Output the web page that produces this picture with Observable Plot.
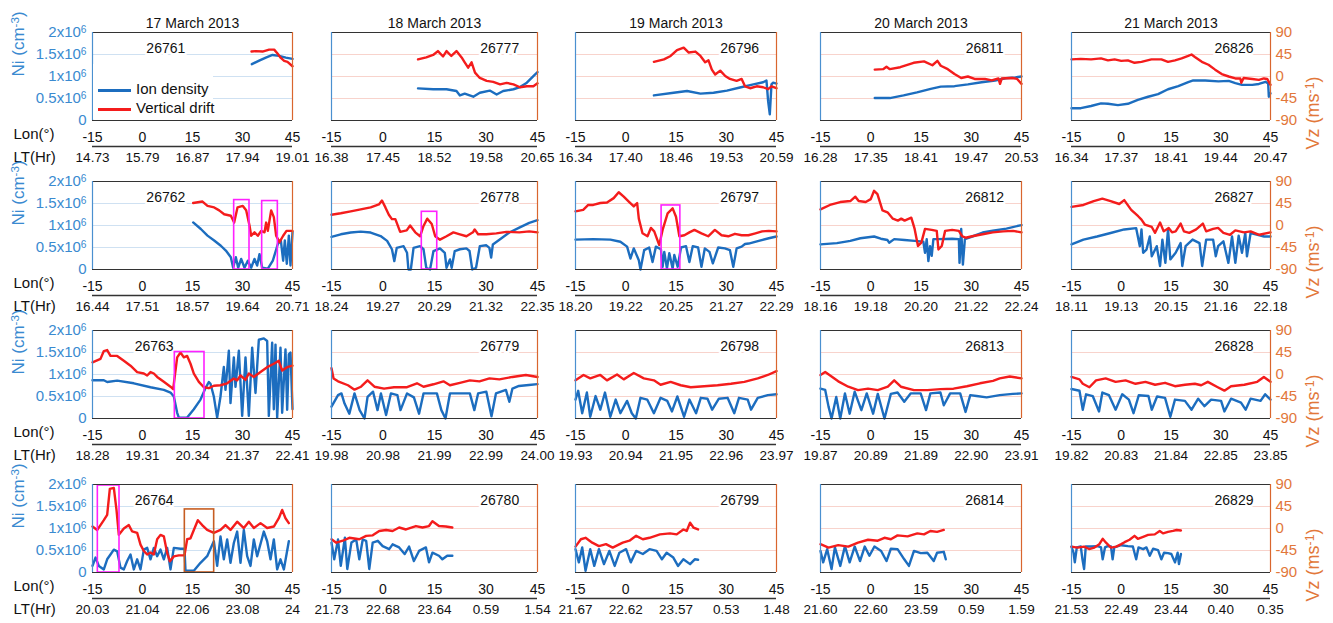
<!DOCTYPE html>
<html><head><meta charset="utf-8">
<script src="https://cdn.jsdelivr.net/npm/d3@7"></script>
<script src="https://cdn.jsdelivr.net/npm/@observablehq/plot@0.6"></script>
<style>
body{margin:0;background:#fff;}
#chart{position:relative;width:1333px;height:623px;overflow:hidden;background:#fff;font-family:"Liberation Sans",Arial,sans-serif;}
#chart svg{position:absolute;}
.legend{position:absolute;left:93px;top:64px;width:120px;height:55px;background:#fff;font-size:15px;color:#111;}
.legend .row{position:absolute;left:5px;height:18px;line-height:18px;white-space:nowrap;}
.legend .sw{display:inline-block;width:33px;height:3px;vertical-align:middle;margin-right:5px;}
</style></head><body><div id="chart"></div>
<script>
// ---- categories / labels ----
const dates = ["17 March 2013","18 March 2013","19 March 2013","20 March 2013","21 March 2013"];
const orbitRows = [
  [26761,26777,26796,26811,26826],
  [26762,26778,26797,26812,26827],
  [26763,26779,26798,26813,26828],
  [26764,26780,26799,26814,26829]
];
const lonTicks = [-15,0,15,30,45];
const niTicks = [0,0.5,1,1.5,2];          // Ni in 10^6 cm^-3
const ltRow0 = [["14.73","15.79","16.87","17.94","19.01"],["16.38","17.45","18.52","19.58","20.65"],["16.34","17.40","18.46","19.53","20.59"],["16.28","17.35","18.41","19.47","20.53"],["16.34","17.37","18.41","19.44","20.47"]];
const ltRow1 = [["16.44","17.51","18.57","19.64","20.71"],["18.24","19.27","20.29","21.32","22.35"],["18.20","19.22","20.25","21.27","22.29"],["18.16","19.18","20.20","21.22","22.24"],["18.11","19.13","20.15","21.16","22.18"]];
const ltRow2 = [["18.28","19.31","20.34","21.37","22.41"],["19.98","20.98","21.99","22.99","24.00"],["19.93","20.94","21.95","22.96","23.97"],["19.87","20.89","21.89","22.90","23.91"],["19.82","20.83","21.84","22.85","23.85"]];
const ltRow3 = [["20.03","21.04","22.06","23.08","24"],["21.73","22.68","23.64","0.59","1.54"],["21.67","22.62","23.57","0.53","1.48"],["21.60","22.60","23.59","0.59","1.59"],["21.53","22.49","23.44","0.40","0.35"]];

// ---- series: [lon, Ni (10^6 cm^-3)] and [lon, Vz (m/s)] ----
const ni26761 = [[32.8,1.28],[35,1.36],[37,1.43],[39,1.49],[41,1.47],[43,1.43],[45,1.40]];
const vz26761 = [[32.7,51],[34,52],[36,51],[38,55],[39.5,55],[40.5,47],[41.5,38],[42.5,32],[43.5,30],[45,21]];
const ni26762 = [[15.2,1.07],[17.5,0.92],[19.5,0.77],[21.5,0.66],[23.5,0.54],[25,0.43],[26.5,0.28],[27.2,0.04],[28,0.28],[28.7,0.04],[29.6,0.24],[30.6,0.04],[31.6,0.2],[32.6,0.04],[33.6,0.24],[34.4,0.09],[35.1,0.35],[35.9,0.04],[37.6,0.02],[39.1,0.2],[40.6,0.58],[41.5,0.66],[42.2,0.2],[42.7,0.66],[43.3,0.13],[43.9,0.77],[44.4,0.09],[45,0.85]];
const vz26762 = [[15.2,46],[18,49],[19.5,40],[21.5,37],[23,31],[24.5,23],[26.5,20],[27.5,6],[28.5,37],[30.1,40],[31.1,31],[32.1,0],[32.6,-21],[33.6,-14],[34.6,-21],[35.6,-11],[36.6,-14],[37.1,6],[37.6,-11],[38.6,31],[39.4,17],[40.1,-21],[41.1,-34],[42.2,-21],[43.2,-11],[45,-11]];
const ni26763 = [[-15,0.87],[-11.6,0.87],[-10.6,0.83],[-7.6,0.86],[-2.6,0.8],[2.4,0.71],[6.4,0.65],[8.4,0.59],[9.4,0.5],[10.4,0.13],[10.9,0.02],[13.4,0.02],[15.4,0.21],[17.4,0.43],[18.9,0.69],[19.9,0.83],[20.4,0.79],[21.4,0.5],[22.4,0.02],[23.4,0.5],[24.4,1.17],[24.9,0.65],[25.9,1.54],[26.4,0.35],[27.4,1.39],[27.9,0.72],[28.9,1.54],[29.9,0.06],[30.9,1.39],[31.9,0.06],[32.9,1.61],[33.9,0.58],[34.9,1.79],[36.4,1.82],[37.4,1.76],[37.9,0.06],[38.9,1.72],[39.4,0.21],[39.9,1.68],[40.4,0.02],[41.4,1.61],[41.9,0.13],[42.9,1.57],[43.4,0.2],[43.9,1.46],[44.4,1.5],[45,0.21]];
const vz26763 = [[-15,25],[-12.6,32],[-11.6,48],[-10.6,50],[-9.6,38],[-7.6,38],[-5.6,28],[-3.6,18],[-1.6,5],[0.4,2],[1.4,-2],[2.4,5],[3.4,2],[4.4,-5],[6.4,-15],[8.4,-25],[9.2,-30],[10.4,35],[11.4,45],[12.4,35],[13.4,38],[14.4,22],[15.4,2],[16.9,-15],[18.4,-26],[19.9,-28],[21.4,-23],[23.4,-22],[25.4,-18],[27.4,-8],[28.4,-12],[29.4,-2],[30.9,-11],[31.9,2],[33.4,-5],[35.4,5],[37.4,15],[39.4,22],[40.9,28],[41.9,8],[43.4,15],[45,18]];
const ni26764 = [[-15,0.15],[-14.1,0.34],[-13.1,0.15],[-11.6,0.07],[-10.6,0.3],[-9.6,0.41],[-8.6,0.52],[-7.6,0.48],[-6.6,0.11],[-5.6,0.07],[-4.6,0.26],[-3.6,0.41],[-2.6,0.07],[-1.6,0.3],[-0.6,0.07],[0.4,0.52],[1.4,0.56],[2.4,0.3],[3.4,0.56],[4.4,0.37],[5.4,0.52],[6.4,0.3],[7.4,0.56],[8.4,0.07],[9.4,0.56],[11.4,0.54],[12.6,0.54],[12.9,0.04],[15.4,0.04],[17.4,0.22],[19.4,0.37],[21.4,0.71],[22.4,0.15],[23.4,0.82],[24.4,0.3],[25.4,0.75],[26.4,0.22],[27.4,0.67],[28.4,0.93],[29.4,0.22],[30.4,0.97],[31.4,0.37],[32.4,0.15],[33.4,0.75],[34.4,0.37],[36.4,0.93],[37.4,0.71],[38.4,0.3],[39.4,0.75],[40.4,0.07],[41.4,0.3],[42.4,0.07],[43.9,0.71]];
const vz26764 = [[-15,4],[-13.6,-3],[-12.6,7],[-11.6,17],[-10.6,28],[-9.8,81],[-8.6,83],[-7.8,38],[-7.1,-13],[-5.6,0],[-4.1,7],[-3.1,-6],[-1.6,-9],[-0.6,-33],[0.4,-46],[1.4,-53],[2.4,-49],[3.4,-53],[4.4,-22],[5.4,-13],[6.4,-16],[7.4,-50],[8.2,-67],[9.4,-57],[10.9,-55],[12.6,-55],[13.4,-22],[14.4,-20],[15.4,-3],[16.6,17],[17.9,7],[19.4,-3],[21.4,-9],[23.4,-3],[24.9,7],[26.4,-3],[28.4,14],[30.4,1],[31.9,14],[33.4,1],[35.4,11],[37.4,1],[39.4,4],[40.9,21],[41.9,38],[42.9,21],[43.9,11]];

const ni26777 = [[10.2,0.73],[14.6,0.71],[18.5,0.71],[21.4,0.67],[22.4,0.57],[23.8,0.61],[26.3,0.54],[28.2,0.63],[31.1,0.68],[33.1,0.59],[35,0.67],[38,0.71],[39.9,0.76],[41.9,0.86],[43.8,1.01],[45,1.1]];
const vz26777 = [[10.2,35],[12.6,39],[14.6,44],[16,52],[17.5,41],[18.5,52],[19.9,42],[21.4,52],[22.9,39],[23.8,29],[24.8,18],[25.8,29],[26.8,8],[28.2,-3],[30.2,-9],[32.1,-11],[34.1,-16],[36,-13],[38,-16],[39.9,-22],[41.9,-20],[43.8,-20],[45,-14]];
const ni26778 = [[-15,0.74],[-12.3,0.8],[-9.4,0.84],[-6.5,0.86],[-3.6,0.84],[-0.7,0.76],[1.2,0.65],[2.6,0.46],[3.3,0.19],[4,0.49],[6,0.53],[7,0.38],[7.4,0],[8.1,0],[8.9,0.49],[10.8,0.53],[11.8,0.46],[12.6,0.04],[13.7,0],[14.7,0.42],[16.6,0.48],[18,0.38],[18.5,0.04],[19.5,0.23],[20,0.04],[20.9,0.42],[22.4,0.46],[24.3,0.48],[25.2,0.42],[26,0],[27.1,0.04],[28.2,0.53],[30.1,0.55],[31,0.49],[31.5,0.27],[32,0.57],[34,0.68],[36.8,0.84],[39.7,0.95],[42.6,1.06],[45,1.12]];
const vz26778 = [[-15,22],[-12.3,25],[-9.4,29],[-6.5,33],[-3.6,37],[-1.2,43],[-0.3,51],[0.7,37],[1.7,22],[2.6,13],[3.6,13],[5,-13],[6.9,-10],[7.9,0],[9.4,-14],[10.8,-22],[11.8,-1],[12.9,14],[14.2,3],[15.2,-22],[16.6,-29],[18.5,-22],[20.5,-14],[22.4,-18],[24.3,-22],[26.2,-14],[26.7,-8],[27.7,-18],[30.1,-18],[33,-16],[35.9,-13],[39.7,-14],[42.6,-12],[45,-14]];
const ni26779 = [[-15,0.27],[-13.1,0.53],[-12.1,0.57],[-11.2,0.34],[-9.8,0.11],[-8.3,0.57],[-6.8,0.19],[-5.4,0],[-4.5,0.49],[-2.9,0.61],[-1.6,0.19],[-0.6,0.57],[0.9,0.08],[2.3,0.57],[4.2,0.53],[5.1,0.19],[7,0.57],[9,0.48],[10.5,0.11],[11.8,0.57],[13.8,0.57],[15.7,0.57],[17,0.19],[18.2,0],[19.5,0.57],[22.4,0.57],[25.3,0.57],[26.6,0.19],[27.7,0.57],[30.1,0.61],[31.6,0.05],[32.9,0.57],[35.8,0.65],[36.8,0.38],[37.7,0.68],[39.6,0.74],[42.5,0.76],[45,0.78]];
const vz26779 = [[-15,13],[-14.4,-8],[-13.1,-14],[-10.2,-22],[-8.3,-31],[-6.4,-25],[-4.5,-12],[-2.5,-25],[0.3,-29],[3.2,-26],[7,-26],[9.9,-18],[11.8,-25],[14.7,-20],[17.6,-14],[19.5,-22],[22.4,-17],[25.3,-12],[28.1,-14],[31,-8],[33.9,-10],[37.7,-5],[41.6,-1],[45,-5]];
const ni26780 = [[-15,0.68],[-14.2,0.3],[-13.1,0.75],[-12.3,0.15],[-11.1,0.79],[-10.4,0.08],[-9.2,0.68],[-7.8,0.75],[-6.9,0.3],[-5.9,0.75],[-4.9,0.72],[-4,0.08],[-3,0.68],[-1.5,0.72],[-0.1,0.6],[1.8,0.53],[2.8,0.64],[4.7,0.57],[6.3,0.42],[7.6,0.59],[9,0.26],[10.5,0.49],[12.5,0.57],[13.4,0.23],[14.4,0.45],[16.3,0.38],[17.3,0.3],[18.7,0.38],[20.2,0.38]];
const vz26780 = [[-15,-22],[-13.6,-29],[-11.7,-25],[-9.8,-19],[-6.9,-22],[-4.9,-15],[-3,-14],[-1.1,-5],[0.9,-3],[2.8,-5],[4.7,2],[6.7,-2],[9.6,5],[11.5,2],[13.4,5],[14.4,15],[16.3,5],[18.3,4],[20.2,2]];

const ni26796 = [[8.4,0.57],[14.3,0.63],[18.3,0.67],[22.3,0.61],[26.2,0.63],[30.2,0.68],[34.1,0.75],[38.1,0.82],[41,0.87],[42,0.91],[42.5,0.44],[43,0.14],[43.5,0.82],[44,0.86],[45,0.84]];
const vz26796 = [[8.4,30],[11.4,35],[13.4,42],[15.3,54],[17.3,59],[18.8,49],[20.8,51],[22.3,42],[23.7,29],[24.7,33],[25.7,14],[26.7,4],[28.2,12],[29.7,1],[31.1,-5],[33.1,-9],[34.6,-5],[35.6,-20],[37.1,-24],[39.1,-20],[41,-22],[42.5,-26],[43.5,-20],[45,-24]];
const ni26797 = [[-15,0.68],[-9.7,0.69],[-4.6,0.68],[-1.6,0.63],[0.4,0.52],[1.4,0.25],[2.4,0.48],[3.9,0.21],[4.4,0],[5.5,0.44],[7,0.5],[8,0.17],[9,0.52],[10.5,0.46],[11,0.06],[11.5,0.4],[12.3,0.02],[13,0.37],[14,0.02],[14.5,0.33],[15.5,0.06],[16.5,0.5],[18,0.53],[19,0.17],[20,0.53],[21.6,0.5],[22.6,0.06],[23.6,0.48],[25,0.4],[26,0.14],[27.6,0.5],[29.6,0.48],[31.1,0.44],[32.1,0.06],[33.1,0.48],[34.6,0.52],[35.6,0.58],[36.7,0.59],[39.7,0.65],[42.7,0.71],[45,0.75]];
const vz26797 = [[-15,29],[-12.7,32],[-11.2,42],[-9.7,42],[-7.6,46],[-5.6,47],[-3.6,56],[-2.1,68],[-0.6,59],[0.9,49],[2.4,39],[3.4,46],[3.9,14],[5,-16],[6.5,-22],[7.5,-5],[8.5,-12],[10,-40],[11,-9],[12.5,25],[14,35],[15,18],[16,-22],[17.5,-20],[19,-14],[20.5,-9],[22.6,-16],[24.6,-22],[26.6,-9],[28.6,-20],[30.6,-22],[32.6,-17],[34.6,-20],[36.6,-20],[38.7,-16],[40.7,-12],[42.7,-11],[45,-12]];
const ni26798 = [[-15,0.43],[-14.2,0.63],[-13,0.12],[-11.6,0.59],[-10.6,0.04],[-9,0.51],[-7.6,0.2],[-6.2,0.59],[-4.6,0.04],[-3,0.43],[-1.6,0.12],[0.4,0.4],[1.8,0.12],[3,0],[4.4,0.47],[6.4,0.43],[8.4,0.12],[10.4,0.47],[12.4,0.4],[13.8,0.16],[15.4,0.5],[17.4,0.04],[19,0.43],[21,0.12],[22.4,0.47],[24.4,0.45],[25.8,0.2],[27.8,0.45],[30.4,0.47],[32.4,0.12],[33.8,0.47],[36.4,0.43],[37.4,0.2],[39.4,0.47],[42.4,0.53],[45,0.55]];
const vz26798 = [[-15,-12],[-12.6,-1],[-10.6,-8],[-7.6,-1],[-5.6,-12],[-2.6,0],[-0.6,-10],[2.4,3],[5.4,-8],[8.4,-12],[10.4,-21],[13.4,-15],[16.4,-22],[19.4,-26],[23.4,-24],[27.4,-22],[31.4,-19],[35.4,-15],[39.4,-8],[42.4,-1],[45,7]];
const ni26799 = [[-15,0.53],[-14,0.23],[-13,0.57],[-12,0.04],[-10.6,0.53],[-9.4,0.15],[-8,0.53],[-6.5,0.19],[-4.9,0.49],[-3.3,0.15],[-1.9,0.45],[0.1,0.53],[1.5,0.23],[3.1,0.49],[5.1,0.42],[7.1,0.53],[9.2,0.49],[10.8,0.3],[12.2,0.45],[14.2,0.34],[15.6,0.15],[17.2,0.3],[19.2,0.19],[20.6,0.3],[21.6,0.29]];
const vz26799 = [[-15,-37],[-13.4,-22],[-12,-19],[-10,-29],[-8,-36],[-5.9,-32],[-3.9,-39],[-0.9,-29],[1.1,-25],[3.1,-15],[5.1,-22],[7.1,-19],[10.2,-12],[13.2,-10],[15.2,-12],[17.2,-2],[18.2,-5],[19.2,12],[20.2,2],[21.6,-2]];

const ni26811 = [[1.2,0.51],[5.7,0.51],[9.8,0.57],[13.8,0.64],[17.9,0.72],[20.9,0.77],[25,0.78],[29,0.82],[33.1,0.87],[37.1,0.91],[40.2,0.96],[43.2,0.98],[45,1]];
const vz26811 = [[1.2,14],[3.7,15],[4.7,20],[5.7,15],[8.8,19],[12.8,28],[15.9,31],[18.4,23],[19.9,32],[20.9,22],[23,15],[25,5],[27,-3],[29,0],[31,-5],[34.1,-5],[36.1,-8],[38.1,-4],[38.6,-15],[39.1,-4],[42.2,-3],[43.7,-5],[45,-15]];
const ni26812 = [[-15,0.57],[-10.1,0.6],[-6.1,0.65],[-3.1,0.71],[1,0.75],[3,0.7],[5,0.67],[5.5,0.61],[7,0.69],[10.1,0.67],[13.1,0.65],[15.7,0.63],[16.2,0.38],[16.7,0.69],[17.2,0.19],[17.7,0.53],[18.2,0.31],[18.7,0.69],[20.2,0.69],[24.3,0.7],[26.3,0.69],[26.5,0.15],[27,0.92],[27.5,0.11],[28.1,0.69],[30.3,0.75],[33.4,0.84],[36.4,0.88],[40.5,0.93],[45,1.01]];
const vz26812 = [[-15,33],[-12.2,42],[-9.1,48],[-6.1,50],[-4.6,59],[-3.6,50],[-1.5,48],[0,54],[1,71],[2,64],[3.5,31],[5,27],[6.6,14],[8.1,10],[9.1,14],[10.1,10],[12.1,16],[13.1,-7],[14.1,-42],[15.1,-35],[16.2,-7],[18.2,-9],[19.7,-11],[20.2,-49],[21.2,-42],[22.2,-11],[24.3,-9],[26.3,-11],[27.3,-22],[28.3,-25],[30.3,-22],[33.4,-18],[36.4,-14],[39.5,-12],[42.5,-11],[45,-14]];
const ni26813 = [[-15,0.68],[-13.6,0.65],[-12.6,0.27],[-11.7,0],[-10.3,0.49],[-9.1,0],[-7.7,0.57],[-6.3,0.11],[-4.8,0.61],[-2.8,0.19],[-1.2,0.57],[0.7,0.11],[2.1,0.56],[4.1,0],[6,0.56],[8,0.59],[10,0.38],[11.9,0.57],[14.9,0.57],[16.5,0.19],[17.8,0.57],[20.8,0.59],[21.8,0.3],[23.7,0.57],[26.7,0.57],[28.3,0.15],[29.7,0.53],[31.6,0.51],[34.6,0.48],[38.5,0.53],[42.4,0.56],[45,0.57]];
const vz26813 = [[-15,-1],[-13.6,5],[-11.7,-4],[-9.7,-14],[-6.7,-25],[-3.8,-32],[-0.8,-29],[2.1,-32],[5.1,-25],[7,-12],[9,-25],[12.9,-32],[16.9,-32],[20.8,-30],[24.7,-29],[28.7,-24],[32.6,-18],[36.5,-13],[38.5,-8],[41.5,-4],[45,-8]];
const ni26814 = [[-15,0.49],[-14.2,0.23],[-13,0.53],[-11.7,0.08],[-10.7,0.57],[-9.1,0.15],[-7.7,0.6],[-6.3,0.23],[-4.8,0.59],[-3.2,0.26],[-1.8,0.59],[-0.4,0.38],[1.1,0.59],[3.1,0.49],[4.7,0.26],[6,0.54],[8,0.53],[10,0.3],[11.4,0.15],[12.9,0.49],[14.9,0.44],[16.9,0.45],[18.8,0.26],[19.8,0.45],[21.8,0.47],[22.4,0.3]];
const vz26814 = [[-15,-32],[-12.6,-39],[-9.7,-34],[-6.7,-37],[-3.8,-29],[-0.8,-23],[2.1,-25],[4.1,-19],[6,-22],[8,-14],[11,-16],[13.9,-10],[15.9,-12],[17.8,-5],[19.8,-7],[21.8,-3]];

const ni26826 = [[-15,0.28],[-12.2,0.28],[-9.1,0.33],[-6.1,0.39],[-4,0.38],[-1,0.35],[2,0.38],[5,0.47],[8.1,0.54],[11.1,0.6],[14.1,0.71],[17.2,0.78],[20.2,0.87],[21.7,0.91],[25.3,0.91],[29.3,0.89],[32.4,0.9],[34.4,0.85],[36.4,0.81],[39.5,0.81],[41.5,0.83],[43.5,0.88],[44.3,0.84],[44.5,0.54],[45,0.62]];
const vz26826 = [[-15,35],[-12.2,36],[-9.1,35],[-6.1,37],[-4,33],[-2,35],[0,32],[2,33],[4,28],[6.1,30],[9.1,35],[12.1,35],[14.1,30],[16.2,33],[18.2,37],[20.2,42],[21.2,45],[22.2,40],[24.3,30],[26.3,24],[28.3,14],[30.3,5],[32.4,0],[34.4,-4],[35.9,-4],[36.2,-13],[36.9,-3],[39.5,-5],[41.5,-7],[43,-4],[44,-5],[45,-17]];
const ni26827 = [[-15,0.57],[-11.4,0.68],[-7.3,0.75],[-3.2,0.83],[0.9,0.91],[4.5,0.94],[5.6,0.53],[6.1,0.91],[6.6,0.38],[7.6,0.45],[8.6,0.75],[9.2,0.3],[10.7,0.53],[11.7,0.08],[12.4,0.68],[13.3,0.15],[14.1,0.91],[14.8,0.23],[16.4,0.38],[17.9,0.6],[18.4,0.08],[19.4,0.53],[21.5,0.68],[23.6,0.6],[24.4,0.08],[25.6,0.68],[27.7,0.68],[28.5,0.3],[29.2,0.53],[30.8,0.64],[32.3,0.15],[33.4,0.75],[34.4,0.15],[35.4,0.77],[36.4,0.38],[37.4,0.83],[37.9,0.3],[39,0.83],[41.1,0.79],[43.1,0.75],[45,0.75]];
const vz26827 = [[-15,38],[-11.4,42],[-8.3,50],[-5.7,55],[-3.2,50],[-0.6,44],[0.9,52],[3,32],[5.1,19],[6.1,12],[7.1,2],[9.2,-3],[10.2,-15],[11.7,6],[12.8,-12],[14.3,-5],[15.3,-14],[16.4,-12],[17.9,4],[18.9,-12],[20.5,-15],[22.6,-8],[24.6,4],[25.6,-12],[27.7,-7],[29.2,-5],[30.8,-15],[32.8,-19],[34.4,-10],[37,-14],[39,-12],[41.6,-19],[45,-14]];
const ni26828 = [[-15,0.67],[-12.6,0.63],[-11.6,0.2],[-10.6,0.55],[-8.6,0.51],[-6.7,0.16],[-5.7,0.59],[-3.7,0.53],[-1.7,0.2],[0.3,0.55],[2.3,0.43],[3.7,0.12],[5.3,0.53],[8.2,0.51],[9.2,0.2],[10.8,0.5],[13.2,0.47],[14.8,0.04],[16.2,0.43],[19.2,0.4],[21.2,0.2],[23.2,0.45],[25.1,0.28],[27.1,0.43],[30.1,0.4],[31.1,0.16],[33.1,0.45],[36.1,0.36],[37.5,0.2],[39,0.45],[42,0.4],[43.4,0.55],[45,0.43]];
const vz26828 = [[-15,-5],[-12.6,-10],[-11.6,-19],[-9.6,-26],[-7.6,-12],[-4.7,-8],[-1.7,-15],[1.3,-12],[4.3,-19],[7.3,-15],[10.2,-21],[13.2,-17],[16.2,-24],[19.2,-21],[22.2,-19],[24.1,-22],[26.1,-15],[29.1,-26],[31.1,-33],[33.1,-24],[37.1,-21],[41,-15],[43,-5],[45,-15]];
const ni26829 = [[-15,0.59],[-14.4,0.45],[-14,0.23],[-13.4,0.57],[-12.2,0.59],[-11.7,0.3],[-11.2,0.08],[-10.7,0.59],[-9.1,0.59],[-7.1,0.6],[-6.1,0.57],[-5.6,0.3],[-4.9,0.57],[-4.1,0.6],[-3.1,0.59],[-2.6,0.3],[-2.1,0.57],[0,0.62],[2,0.6],[3.5,0.59],[4.5,0.3],[5.2,0.57],[6.6,0.53],[7.6,0.57],[8.6,0.38],[9.6,0.54],[11.1,0.51],[12.1,0.3],[12.9,0.45],[14.1,0.44],[15.1,0.42],[16.2,0.23],[17,0.45],[17.4,0.19],[18,0.42]];
const vz26829 = [[-15,-37],[-13.2,-39],[-11.2,-37],[-9.7,-42],[-8.1,-39],[-6.6,-32],[-5.6,-21],[-4.6,-29],[-3.1,-39],[-1.5,-37],[0,-32],[1,-28],[2.5,-23],[4,-15],[5,-21],[6.6,-17],[8.1,-13],[10.1,-12],[11.6,-5],[12.6,-10],[14.1,-7],[15.6,-5],[16.7,-3],[18,-4]];

// highlighted regions: orbit, lon range, top (Vz, m/s), kind (1 = plasma bubble box, 2 = other)
const boxes = [
  {orbit:26762, lon1:27.5, lon2:32.1, top:52, kind:1},
  {orbit:26762, lon1:35.9, lon2:40.6, top:50, kind:1},
  {orbit:26763, lon1:9.7, lon2:18.6, top:46, kind:1},
  {orbit:26764, lon1:-13.4, lon2:-6.9, top:88, kind:1},
  {orbit:26764, lon1:12.7, lon2:21.5, top:39, kind:2},
  {orbit:26778, lon1:11.3, lon2:15.8, top:28, kind:1},
  {orbit:26797, lon1:10.7, lon2:16.3, top:41, kind:1}
];

const series = new Map([
  [26761,[ni26761,vz26761]],[26762,[ni26762,vz26762]],[26763,[ni26763,vz26763]],[26764,[ni26764,vz26764]],
  [26777,[ni26777,vz26777]],[26778,[ni26778,vz26778]],[26779,[ni26779,vz26779]],[26780,[ni26780,vz26780]],
  [26796,[ni26796,vz26796]],[26797,[ni26797,vz26797]],[26798,[ni26798,vz26798]],[26799,[ni26799,vz26799]],
  [26811,[ni26811,vz26811]],[26812,[ni26812,vz26812]],[26813,[ni26813,vz26813]],[26814,[ni26814,vz26814]],
  [26826,[ni26826,vz26826]],[26827,[ni26827,vz26827]],[26828,[ni26828,vz26828]],[26829,[ni26829,vz26829]]
]);
const ltRows = [ltRow0, ltRow1, ltRow2, ltRow3];

// ---- styles / layout ----
const C = {blue:"#1c6dbf", red:"#f41c1c", axisBlue:"#3a8ad0", axisOrange:"#e2773a",
  frameBlue:"#4a90d0", frameOrange:"#d9662e", frameDark:"#333", gridBlue:"#cfe1f2", gridPink:"#f8d3cc",
  magenta:"#ff20ff", boxOrange:"#c65d22"};
const COLS = [{l:92,w:200},{l:331,w:206},{l:575,w:201},{l:820,w:201},{l:1071,w:199}];
const ROWS = [32,181,330,484];
const FH = 88;
const FONT = "'Liberation Sans', Arial, sans-serif";
const vzToNi = v => (v + 90) / 90;
const SVGNS = "http://www.w3.org/2000/svg";

const chart = document.getElementById("chart");

orbitRows.forEach((row, r) => row.forEach((orbit, c) => {
  const [ni, vz] = series.get(orbit);
  const mL = c === 0 ? 92 : 30, mR = c === 4 ? 63 : 30, mT = 34, mB = 54;
  const W = COLS[c].w;
  const myBoxes = boxes.filter(b => b.orbit === orbit);
  const lt = ltRows[r][c];
  const marks = [
    Plot.ruleY([0.5, 1, 1.5], {stroke: c === 0 ? C.gridBlue : C.gridPink, strokeWidth: 1}),
    Plot.text([orbit], {x: () => c === 0 ? (r < 2 ? 7 : 3.5) : 34, y: () => 1.63, text: d => String(d),
      fontSize: 14, fill: "#111", stroke: "white", strokeWidth: 5, paintOrder: "stroke"}),
    Plot.line(ni, {x: d => d[0], y: d => d[1], stroke: C.blue, strokeWidth: 2.4}),
    Plot.line(vz, {x: d => d[0], y: d => vzToNi(d[1]), stroke: C.red, strokeWidth: 2.4}),
    Plot.rect(myBoxes.filter(b => b.kind === 1), {x1: "lon1", x2: "lon2", y1: () => 0, y2: b => vzToNi(b.top), fill: "none", stroke: C.magenta, strokeWidth: 1.6}),
    Plot.rect(myBoxes.filter(b => b.kind === 2), {x1: "lon1", x2: "lon2", y1: () => 0, y2: b => vzToNi(b.top), fill: "none", stroke: C.boxOrange, strokeWidth: 1.6}),
    Plot.ruleY([0], {stroke: C.frameDark, strokeWidth: 1.2}),
    Plot.ruleY([2], {stroke: C.frameDark, strokeWidth: 1.2}),
    Plot.ruleX([-15], {stroke: C.frameBlue, strokeWidth: 1.2}),
    Plot.ruleX([45], {stroke: C.frameOrange, strokeWidth: 1.2}),
    Plot.axisX({ticks: lonTicks, tickFormat: d => String(d), tickSize: 0, tickPadding: 12, fontSize: 14, label: null, fill: "#111"}),
    Plot.ruleY([0], {dy: 26, stroke: C.frameDark, strokeWidth: 1.3}),
    Plot.text(lonTicks, {x: d => d, frameAnchor: "bottom", dy: 41, text: (d, i) => lt[i], fontSize: 13.5, fill: "#111"})
  ];
  if (r === 0) marks.push(Plot.text([dates[c]], {frameAnchor: "top", dy: -14, fontSize: 14, fill: "#111"}));
  if (c === 0) {
    marks.push(
      Plot.axisY({anchor: "left", ticks: niTicks, tickFormat: d => d === 0 ? "0" : `${d}x10^6`, tickSize: 0, tickPadding: 6, fontSize: 15, color: C.axisBlue, label: null}),
      Plot.text(["Ni (cm^-3)"], {frameAnchor: "left", dx: -74, rotate: -90, fontSize: 17, fill: C.axisBlue}),
      Plot.text(["Lon(°)"], {frameAnchor: "bottom-left", dx: -79, dy: 18, textAnchor: "start", fontSize: 15, fill: "#111"}),
      Plot.text(["LT(Hr)"], {frameAnchor: "bottom-left", dx: -79, dy: 41, textAnchor: "start", fontSize: 15, fill: "#111"})
    );
  }
  if (c === 4) {
    marks.push(
      Plot.axisY({anchor: "right", ticks: niTicks, tickFormat: d => String(Math.round(d * 90 - 90)), tickSize: 0, tickPadding: 5, fontSize: 15, color: C.axisOrange, label: null}),
      Plot.text(["Vz (ms^-1)"], {frameAnchor: "right", dx: 43, rotate: -90, fontSize: 18, fill: C.axisOrange})
    );
  }
  const svg = Plot.plot({
    width: mL + W + mR, height: mT + FH + mB,
    marginLeft: mL, marginRight: mR, marginTop: mT, marginBottom: mB,
    x: {domain: [-15, 45]},
    y: {domain: [0, 2], axis: (c === 0 || c === 4) ? undefined : null},
    style: {background: "transparent", overflow: "visible", fontFamily: FONT},
    marks
  });
  // turn "^n" into real superscripts
  svg.querySelectorAll("text").forEach(t => {
    if (t.children.length || !t.textContent.includes("^")) return;
    const s = t.textContent;
    const m = s.match(/^(.*)\^(-?\d+)(.*)$/);
    if (!m) return;
    t.textContent = "";
    const big = parseFloat(t.getAttribute("font-size") || getComputedStyle(t).fontSize) || 15;
    const a = document.createElementNS(SVGNS, "tspan"); a.textContent = m[1];
    const b = document.createElementNS(SVGNS, "tspan"); b.textContent = m[2].replace("-", "-");
    b.setAttribute("dy", "-0.45em"); b.setAttribute("font-size", "0.68em");
    t.appendChild(a); t.appendChild(b);
    if (m[3]) { const cEl = document.createElementNS(SVGNS, "tspan"); cEl.textContent = m[3]; cEl.setAttribute("dy", "0.3em"); t.appendChild(cEl); }
  });
  svg.style.position = "absolute";
  svg.style.left = (COLS[c].l - mL) + "px";
  svg.style.top = (ROWS[r] - mT) + "px";
  svg.style.maxWidth = "none";
  chart.appendChild(svg);
}));

// legend (panel 26761)
const legend = document.createElement("div");
legend.className = "legend";
[["Ion density", C.blue, 16], ["Vertical drift", C.red, 35]].forEach(([label, color, top]) => {
  const rowEl = document.createElement("div");
  rowEl.className = "row";
  rowEl.style.top = top + "px";
  const sw = document.createElement("span");
  sw.className = "sw";
  sw.style.background = color;
  rowEl.appendChild(sw);
  rowEl.appendChild(document.createTextNode(label));
  legend.appendChild(rowEl);
});
chart.appendChild(legend);
</script></body></html>
